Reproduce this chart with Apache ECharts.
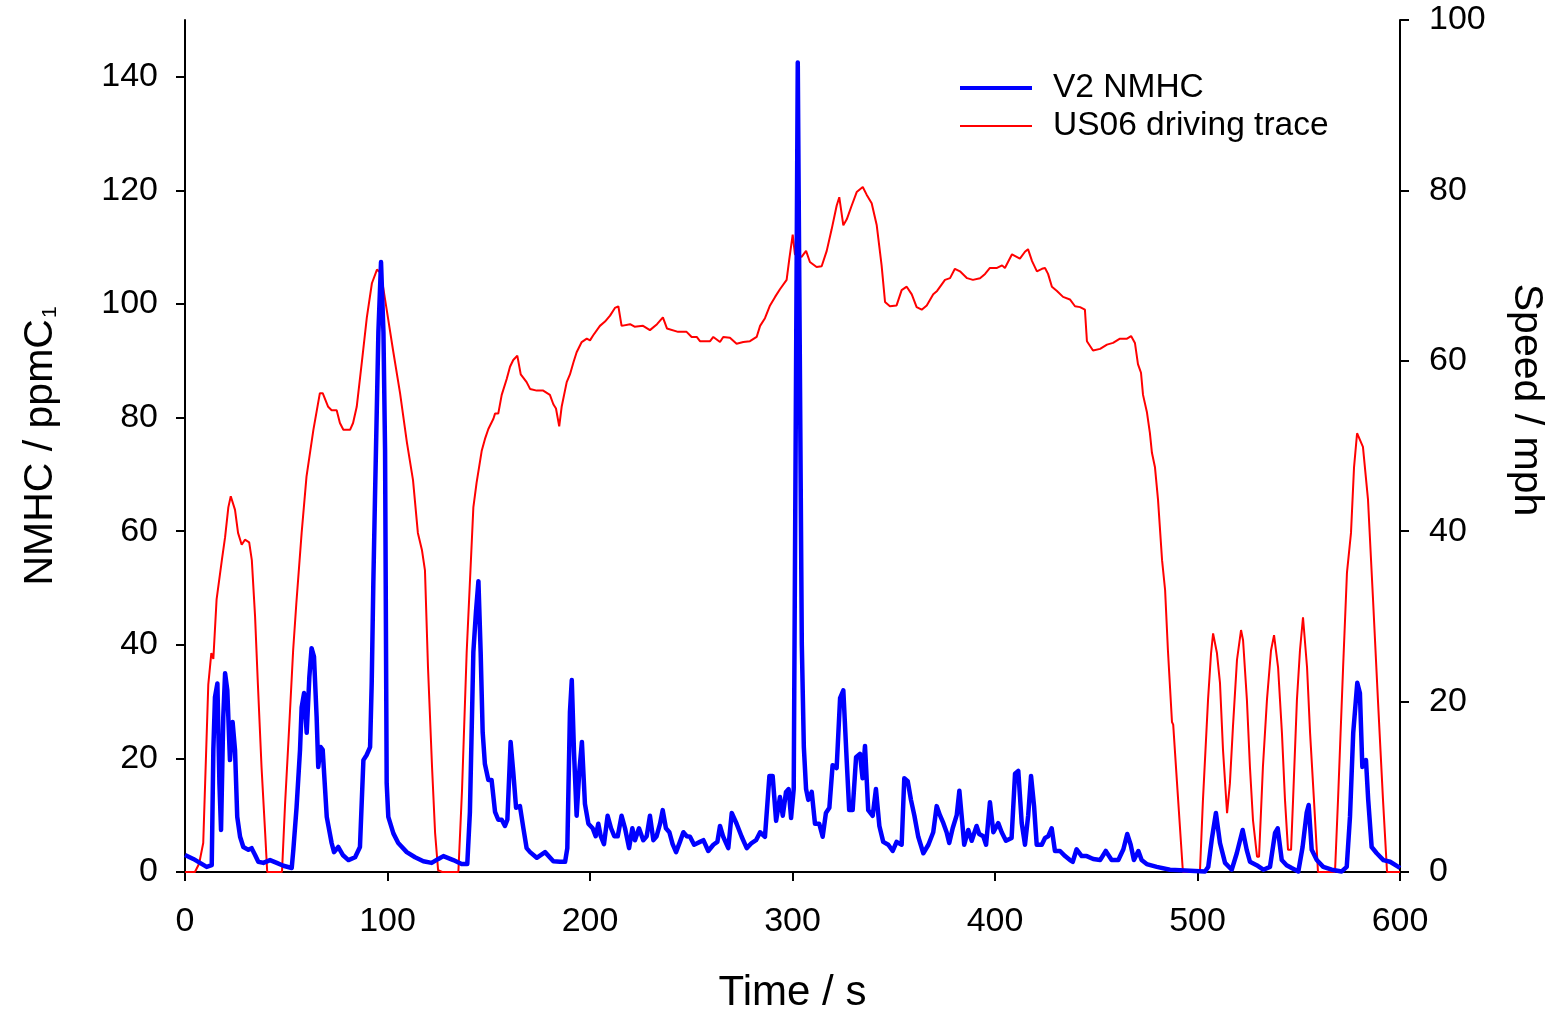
<!DOCTYPE html>
<html>
<head>
<meta charset="utf-8">
<script src="https://cdn.jsdelivr.net/npm/echarts@6/dist/echarts.min.js"></script>
<style>
html,body{margin:0;padding:0;background:#fff;}
#chart{width:1552px;height:1010px;}
</style>
</head>
<body>
<div id="chart"></div>
<script>
// ---- Data ----
const xTicks = [0, 100, 200, 300, 400, 500, 600];
const leftTicks = [0, 20, 40, 60, 80, 100, 120, 140];
const rightTicks = [0, 20, 40, 60, 80, 100];

// V2 NMHC (ppmC1) vs time (s)
const nmhcTime = [0,4.1,7.4,10.7,13.2,14,14.8,16,17,17.8,18.9,19.8,20.9,22.2,23.5,24.7,25.8,27.2,28.8,31.3,32.9,34.6,36.2,38.7,42,45.3,48.6,52.7,53.5,55.1,56.8,57.6,58.8,60.1,61.4,62.5,63.7,65,65.8,67,68,70,72.4,73.6,75.7,77.9,80.7,84,86.4,88.1,89.7,91.4,92.2,93,93.8,95.5,96.8,98,98.8,99.6,100.4,102.9,105.3,109.5,113.6,117.7,121.8,125.1,127.6,132.5,136.6,139.4,140.7,142.4,143.7,144.9,146,147,148.1,149.8,151.4,153.1,154.7,156.4,158,159.2,160.8,162.1,163.5,165.4,167.1,168.7,170.4,173.7,177.8,181.9,185.2,187.7,188.8,190.1,191,192.1,193.4,194.7,196,197.5,199.2,201.3,202.8,204.1,205.3,206.9,208.7,210.4,212,213.7,215.6,217.3,219.3,220.9,222.2,224.2,226.3,228,229.6,231.3,232.9,234.6,235.9,237.5,239.2,240.8,242.5,244.4,246.1,247.8,249.4,251.4,254.3,256,258.4,260.9,262.9,264.2,265.8,268.3,270,272.4,274.9,277.4,279.8,282,284,286.4,288.6,290.2,291.9,293.8,295.2,296.8,298.1,299.3,300.6,302.6,304.6,305.6,306.7,307.8,309.5,311.1,313.2,314.9,316.5,318.2,319.8,321.8,323.5,325.1,326.8,328,329.7,331.4,333.3,334.6,335.8,337.4,339.6,341.2,342.9,344.8,347.3,349.5,351.4,353.9,355.2,356.9,358.5,360.2,362.1,364.6,367.1,369.5,371.2,372.8,374.5,376.1,377.4,379.1,381.1,382.4,383.5,384.8,386.8,388.5,390.9,392.2,394.2,395.6,397.5,399.2,401.6,403.3,405.4,408.2,409.9,411.5,413.2,414.8,416.4,417.8,419.3,420.6,423.1,424.7,426.3,428,429.6,432.1,434.6,437,438.4,440.3,442.8,445.3,448.5,451.9,454.7,457.6,460.9,463.4,465.3,467,468.6,470.8,472.4,474.9,479.9,486.4,491.4,496.3,503.7,505.3,507,509.1,511.1,513.6,516.9,519.4,522.3,524.3,525.9,529.2,532.5,535.8,538.3,539.6,541.6,544,546.5,549.8,551.9,553.9,554.9,556.4,558.9,562.1,566.3,571.2,573.7,575.3,576.9,578.9,580.2,581.4,583.2,584.3,586,588.5,591.8,595.1,599.2,600];
const nmhcValue = [3.0,2.3,1.6,0.9,1.2,21.5,30.8,33.2,15.6,7.4,27.3,35,32,19.7,26.4,21.5,9.7,6.2,4.4,3.9,4.2,3.0,1.8,1.6,2.1,1.6,1.1,0.7,3.9,11.4,21.5,29,31.5,24.5,34.3,39.4,37.9,27.3,18.5,22,21.5,9.7,5.1,3.5,4.4,3.0,2.1,2.6,4.4,19.7,20.6,22,33.2,50.8,65.5,95,107.4,95,74.3,15.6,9.7,6.8,5.1,3.5,2.6,1.9,1.6,2.3,2.8,2.1,1.4,1.4,10.6,38.7,45.9,51.2,38.7,24.6,19,16.2,16.2,10.6,9.2,9.2,8.1,9.2,22.9,17.6,11.3,11.6,7.7,4.2,3.5,2.5,3.5,1.9,1.8,1.8,4.2,28.2,33.8,21.1,9.9,17.6,22.9,12,8.5,7.7,6.3,8.5,6.3,4.9,9.9,7.7,6.3,6.3,9.9,7.7,4.2,7.7,5.6,7.7,5.6,6.3,9.9,5.6,6.3,8.5,10.9,7.7,7,4.9,3.5,5.3,7,6.3,6.2,4.8,5.3,5.6,3.7,4.8,5.3,8.1,6.2,4.2,10.4,8.5,6.2,4.2,5.1,5.6,7,6.2,16.9,16.9,9,13.2,9.9,14.1,14.6,9.5,14.6,142.5,40,22,14.6,12.7,14.1,8.5,8.5,6.2,10.4,11.3,18.8,18.3,30.6,32,19.4,10.9,10.9,20.2,20.8,16.5,22.2,10.9,9.9,14.6,8.1,5.3,4.8,3.7,5.3,4.8,16.5,16,12.7,9.9,6.2,3.3,4.8,7,11.6,10,8.6,7,5.1,7.7,10,14.3,10,4.8,7.4,5.5,8.1,6.7,6.3,4.8,12.3,7,8.6,7,5.5,6,17.3,17.8,8.6,4.8,10,16.9,11.6,4.8,4.8,6,6.3,7.7,3.7,3.7,2.8,2.1,1.8,4,2.8,2.8,2.3,2.1,3.7,2.1,2.1,4,6.7,4.8,2.1,3.7,2.1,1.4,0.9,0.4,0.3,0.2,0.1,0.9,5.6,10.4,5.1,1.6,0.4,3.3,7.4,3.9,1.8,1.2,0.4,0.9,6.9,7.7,2.1,1.2,0.7,0.1,4.4,10.4,11.8,3.9,2.1,0.9,0.4,0.1,0.9,9.7,24.5,33.3,31.5,18.5,19.7,12.7,4.4,3.3,2.1,1.8,0.9,0.7];

// US06 driving trace speed (mph) vs time (s)
const speedTime = [0,4.9,7,9,11.5,13,14,15.6,18.2,19.8,21.4,22.6,24.7,26.2,28,29.6,31.7,33,34.6,36,37.8,39.6,40.6,47.9,49.4,51,53.4,55,57.6,60,63.4,66.6,68,70.7,72.4,74.9,76.5,78.2,81.5,83,84.8,87.4,89.8,92.3,94.8,96.3,97.8,100.2,102.7,106.2,109.6,112.6,115,117,118.5,120,122,123.5,125,127,135,136.8,139.1,142.4,144,146.5,148.1,149.8,152.3,153.1,154.7,156.4,158.9,160.5,162.1,164.1,165.8,168.7,170.4,173.7,176.9,180.2,181.9,183.2,184.8,186,188.5,190.1,191.8,193.4,195.9,198.4,200,201.6,204.9,207.4,209.9,212.3,214,215.6,219.8,222,226.2,229.6,233.1,236,238,243.5,247.7,250.2,252.7,254.3,259.3,260.9,264.2,265.8,269.1,272.4,275.7,279,282.3,284,286.4,288.9,291.4,293.8,297.1,298.4,300.1,301.2,304.5,306.7,308.6,311.9,314.4,316.9,319.3,321.8,323.1,325.1,326.8,329.2,331.7,334.7,336.6,339.1,341.6,344,345.7,348.1,351.4,353.9,356.4,358.9,361.3,363.8,366.3,369.5,371.4,373.8,375.3,377.8,380.2,382.7,386.2,389.1,392.6,395.1,397.5,401,403.5,404.9,408.4,412.3,414.8,416.3,418.3,420.7,423.2,424.7,426.2,428.1,430.6,433.6,437,439.5,442,444.4,445.4,448.4,451.9,455.3,458.3,461.7,465.2,467.2,469.1,470.6,472.1,473.1,475,476.5,477.5,479,480.5,482.5,484,485.4,487.4,488,489.9,492.8,501.2,502.7,505.2,506.7,507.7,509.6,511.1,512.6,514.6,516,517.5,519.5,521.5,522.5,524.4,525.9,527.4,529.4,530.4,532.3,534.3,536.3,537.8,539.8,541.7,543.2,544.7,546.2,547.2,549.1,550.6,552.1,554.1,555.6,557.5,559.5,567.9,569.4,571.9,573.8,575.8,577.3,578.8,581.7,584.2,586.7,589.1,591.6,593.6,600];
const speedValue = [0,0,1,3.4,22,25.7,25,32,36.6,39.3,42.8,44.1,42.5,39.8,38.4,39,38.7,36.6,30,22,12.3,4.5,0,0,7.9,15,26,31.6,39.8,46.4,51.9,56.2,56.2,54.6,54.2,54.2,52.7,51.9,51.9,52.7,54.6,60,65.1,69.1,70.7,70.4,68.7,65.1,61.3,56.2,50.4,46,39.8,37.8,35.4,24,12.3,4.6,0.2,0,0,9.6,25.8,42.8,45.7,49.4,50.8,52,53.2,53.8,53.8,56,57.9,59.3,60.1,60.6,58.4,57.5,56.7,56.5,56.5,56,54.9,54.4,52.3,54.6,57.5,58.4,59.8,61,62.2,62.6,62.4,63,64.1,64.6,65.3,66.2,66.4,64.1,64.3,64,64.1,63.6,64.3,65.1,63.8,63.4,63.4,62.8,62.8,62.3,62.3,62.8,62.2,62.8,62.7,62,62.2,62.3,62.8,64.1,65,66.5,67.5,68.4,69.5,71.9,74.8,72.5,72.2,72.9,71.6,71,71.1,72.9,75.4,78.2,79.2,75.9,76.6,78.2,79.8,80.4,79.5,78.5,75.9,71.2,66.9,66.4,66.5,68.3,68.7,67.8,66.3,66,66.5,67.8,68.2,69,69.5,69.7,70.8,70.5,69.7,69.5,69.7,70.2,70.9,70.9,71.2,70.9,72.5,72,72.8,73.1,71.7,70.5,70.8,70.9,70.2,68.7,68.2,67.5,67.2,66.4,66.3,66,62.3,61.2,61.4,61.9,62.1,62.6,62.6,62.9,62.1,59.6,58.6,56,54,51.5,49.2,47.5,43.7,36.6,33.1,26,17.6,17.3,10.4,0,0,8.5,20.2,25.7,28,25.7,22.2,14.3,6.9,10.4,17,24.9,28.4,27.2,20.2,12.3,6.1,1.8,1.8,12.3,20.2,26,27.8,24,16.3,8.5,2.6,2.6,8.5,20.2,26,29.9,24,16.3,8.5,0,0,8.5,24,35.1,39.8,47.5,51.5,49.9,43.7,31.9,20.2,8.5,0,0];

const nmhcData = nmhcTime.map((t, i) => [t, nmhcValue[i]]);
const speedData = speedTime.map((t, i) => [t, speedValue[i]]);

const FONT = '"Liberation Sans", Arial, sans-serif';
const axisLineStyle = { color: '#000', width: 2 };
const tickFont = { fontFamily: FONT, fontSize: 34, color: '#000' };

const chart = echarts.init(document.getElementById('chart'), null, { renderer: 'canvas' });
chart.setOption({
  animation: false,
  backgroundColor: '#fff',
  grid: { left: 185, right: 152, top: 20, bottom: 138, containLabel: false, outerBoundsMode: 'none' },
  legend: [
    {
      data: [{ name: 'V2 NMHC', icon: 'rect' }],
      left: 960, top: 70, padding: 0, itemWidth: 72, itemHeight: 4,
      textStyle: { fontFamily: FONT, fontSize: 33.5, color: '#000', padding: [0, 0, 0, 16], lineHeight: 36 }
    },
    {
      data: [{ name: 'US06 driving trace', icon: 'rect' }],
      left: 960, top: 108, padding: 0, itemWidth: 72, itemHeight: 2,
      textStyle: { fontFamily: FONT, fontSize: 33.5, color: '#000', padding: [0, 0, 0, 16], lineHeight: 36 }
    }
  ],
  xAxis: {
    type: 'value', min: 0, max: 600, interval: 100,
    name: 'Time / s', nameLocation: 'middle', nameGap: 100,
    nameTextStyle: { fontFamily: FONT, fontSize: 42, color: '#000' },
    axisLine: { show: true, lineStyle: axisLineStyle },
    axisTick: { show: true, length: 9, lineStyle: axisLineStyle, customValues: xTicks },
    axisLabel: Object.assign({ margin: 33, customValues: xTicks }, tickFont),
    splitLine: { show: false }
  },
  yAxis: [
    {
      type: 'value', min: 0, max: 150, interval: 20, position: 'left',
      name: '{a|NMHC / ppmC}{b|1}', nameLocation: 'middle', nameGap: 124, nameRotate: 90,
      nameTextStyle: {
        fontFamily: FONT, fontSize: 41, color: '#000',
        rich: {
          a: { fontFamily: FONT, fontSize: 41, color: '#000' },
          b: { fontFamily: FONT, fontSize: 21, color: '#000', verticalAlign: 'bottom', padding: [18, 0, 0, 1] }
        }
      },
      axisLine: { show: true, lineStyle: axisLineStyle },
      axisTick: { show: true, length: 9, lineStyle: axisLineStyle, customValues: leftTicks },
      axisLabel: Object.assign({ margin: 27, customValues: leftTicks }, tickFont),
      splitLine: { show: false }
    },
    {
      type: 'value', min: 0, max: 100, interval: 20, position: 'right',
      name: 'Speed / mph', nameLocation: 'middle', nameGap: 106, nameRotate: -90,
      nameTextStyle: { fontFamily: FONT, fontSize: 41, color: '#000', padding: [0, 92, 0, 0] },
      axisLine: { show: true, lineStyle: axisLineStyle },
      axisTick: { show: true, length: 9, lineStyle: axisLineStyle, customValues: rightTicks },
      axisLabel: Object.assign({ margin: 29, customValues: rightTicks }, tickFont),
      splitLine: { show: false }
    }
  ],
  series: [
    {
      name: 'US06 driving trace', type: 'line', yAxisIndex: 1, data: speedData,
      showSymbol: false, symbol: 'none', smooth: false,
      lineStyle: { color: '#ff0000', width: 2 }, itemStyle: { color: '#ff0000' }, z: 2
    },
    {
      name: 'V2 NMHC', type: 'line', yAxisIndex: 0, data: nmhcData,
      showSymbol: false, symbol: 'none', smooth: false,
      lineStyle: { color: '#0000ff', width: 4.5, join: 'round' }, itemStyle: { color: '#0000ff' }, z: 3
    }
  ]
});
</script>
</body>
</html>
